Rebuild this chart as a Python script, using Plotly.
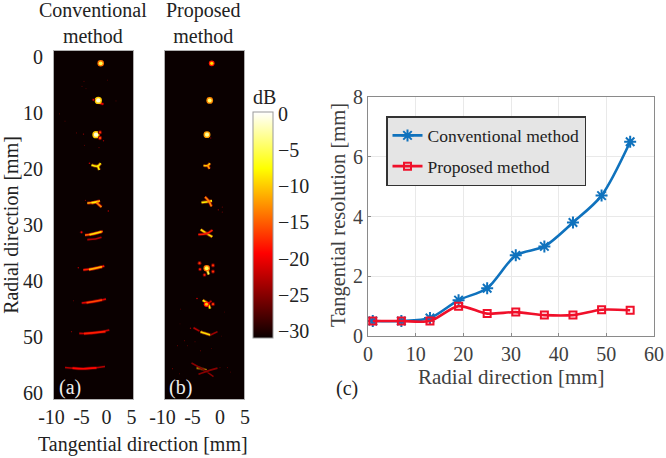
import plotly.graph_objects as go
from plotly.colors import sample_colorscale

# ---------- data ----------
radial_mm = [1, 7, 13, 19, 25, 31, 37, 43, 49, 55]
conventional_res = [0.5, 0.5, 0.6, 1.2, 1.6, 2.7, 3.0, 3.8, 4.7, 6.5]
proposed_res = [0.5, 0.5, 0.5, 1.0, 0.75, 0.8, 0.7, 0.7, 0.88, 0.86]

# (tangential mm, radial mm, dB)
a_spots = [(-1.16, 1.2, -5), (-1.64, 7.8, -1), (-2.1, 13.9, -1), (-1.3, 13.5, -17), (-1.3, 14.5, -16),
           (-4.6, 13.8, -24), (-5.0, 31.3, -20), (-5.64, 37.6, -23), (-6.6, 43.5, -26), (-7.0, 49.0, -25),
           (0.36, 27.5, -23), (-3.4, 19.0, -22), (-4.2, 25.6, -25), (-4.5, 4.4, -27), (-4.9, 5.3, -27),
           (-4.1, 5.7, -28), (-2.6, 7.7, -20), (-9.4, 10.2, -27), (-8.3, 11.5, -28), (-6.0, 13.6, -27),
           (-4.4, 15.8, -27), (-1.5, 16.2, -26), (0.2, 4.2, -28), (1.9, 7.9, -28), (-0.6, 15.0, -24)]
a_streaks = [([-1.7, -0.6], [8.2, 8.5], -20),
             ([-3.0, -1.76, -1.16], [19.3, 19.5, 19.0], -8),
             ([-1.76, -1.44], [19.5, 20.2], -8),
             ([-3.84, -2.6, -1.3], [26.1, 26.0, 25.7], -12),
             ([-3.0, -1.6], [26.05, 25.85], -8),
             ([-2.0, -1.0], [26.0, 26.8], -13),
             ([-4.3, -2.64, -0.76], [31.8, 31.6, 31.1], -15),
             ([-3.4, -1.0], [31.75, 31.2], -9),
             ([-3.84, -2.2, -1.0], [32.6, 32.5, 32.2], -23),
             ([-4.64, -2.64, -0.44], [38.0, 37.8, 37.3], -18),
             ([-3.5, -0.9], [37.95, 37.45], -11),
             ([-4.96, -2.64, -0.1], [43.9, 43.7, 43.2], -21),
             ([-4.0, -0.9], [43.85, 43.35], -16),
             ([-5.44, -3.0, 0.56], [49.3, 49.3, 48.7], -22),
             ([-4.5, -0.2], [49.35, 49.0], -18),
             ([-8.3, -4.64, -0.3], [55.4, 55.6, 55.2], -23),
             ([-6.8, -4.64, -2.0], [55.5, 55.6, 55.45], -19)]

b_spots = [(-1.16, 1.2, -9), (-1.56, 7.8, -4), (-2.1, 13.9, -3), (-1.36, 14.5, -25),
           (0.16, 27.3, -24), (0.96, 26.8, -26), (0.96, 27.7, -26),
           (-2.16, 37.7, -5), (-3.6, 36.8, -17), (-3.5, 37.9, -18), (-2.6, 38.9, -18),
           (-0.9, 37.2, -17), (-0.9, 38.3, -17), (-2.2, 44.1, -10), (-0.9, 44.1, -17),
           (-4.1, 43.1, -22), (-5.4, 48.4, -24), (-6.6, 50.6, -27), (-8.0, 51.5, -27),
           (-9.0, 55.6, -26), (0.5, 55.4, -27), (2.0, 55.4, -27), (1.4, 45.5, -28),
           (-7.4, 45.0, -28), (-3.4, 52.4, -26), (-6.0, 51.5, -28), (-4.5, 50.8, -27),
           (-7.5, 47.6, -29), (-1.2, 52.0, -28), (0.8, 49.8, -29), (2.6, 56.2, -28), (-7.6, 56.5, -27)]
b_streaks = [([-2.8, -1.96, -1.5], [19.4, 19.4, 19.0], -10),
             ([-1.96, -1.6], [19.4, 20.0], -12),
             ([-3.2, -1.7, -1.1], [26.0, 25.8, 25.7], -8),
             ([-2.5, -1.7, -1.2], [25.0, 25.8, 26.7], -13),
             ([-3.36, -2.2, -1.04], [30.8, 31.5, 32.1], -9),
             ([-3.84, -2.16, -1.0], [31.7, 31.5, 30.9], -18),
             ([-2.16, -1.76], [37.7, 38.8], -5),
             ([-2.96, -1.84, -1.5], [43.4, 44.1, 44.9], -8),
             ([-2.2, -1.2], [44.3, 43.5], -22),
             ([-3.4, -2.5, -1.4], [49.0, 49.3, 49.6], -9),
             ([-4.8, -3.6], [48.3, 48.9], -23),
             ([-1.4, 0.0], [49.6, 49.0], -24),
             ([-4.16, -3.16, -2.2], [55.4, 55.6, 55.9], -8),
             ([-5.2, -3.16, -0.8], [54.6, 55.6, 57.0], -25),
             ([-3.8, -1.6, 0.0], [56.6, 55.9, 55.5], -25)]

db_ticks = [0, -5, -10, -15, -20, -25, -30]
x_tick_vals = [-10, -5, 0, 5]
a_x_text = ["-10\u00a0\u00a0", "-5", "0", "5"]
b_x_text = ["-10\u00a0\u00a0", "-5", "\u00a00", "\u00a05"]
r_ticks = [0, 10, 20, 30, 40, 50, 60]

# ---------- style ----------
W, H = 666, 458
SERIF = "Liberation Serif"
HOT = [[0, "#0a0000"], [0.375, "#ff0000"], [0.75, "#ffff00"], [1, "#ffffff"]]
DB_MIN, DB_MAX = -31, 0.3


def hot(db):
    t = max(0, min(1, (db - DB_MIN) / (DB_MAX - DB_MIN)))
    return sample_colorscale(HOT, [t])[0]


def dom_x(a, b):
    return [a / W, b / W]


def dom_y(top, bottom):
    return [1 - bottom / H, 1 - top / H]


fig = go.Figure()


def add_panel(spots, streaks, xa, ya):
    for ts, rs, db in streaks:
        fig.add_trace(go.Scatter(x=ts, y=rs, mode="lines", xaxis=xa, yaxis=ya, showlegend=False,
                                 line=dict(color=hot(db - 6), width=3.2, shape="spline"), opacity=0.5,
                                 hoverinfo="skip"))
        fig.add_trace(go.Scatter(x=ts, y=rs, mode="lines", xaxis=xa, yaxis=ya, showlegend=False,
                                 line=dict(color=hot(db), width=1.6, shape="spline")))
    fig.add_trace(go.Scatter(
        x=[s[0] for s in spots], y=[s[1] for s in spots], mode="markers", xaxis=xa, yaxis=ya,
        showlegend=False, hoverinfo="skip",
        marker=dict(color=[s[2] - 9 for s in spots], coloraxis="coloraxis", symbol="circle", opacity=1,
                    size=[max(2, 7.5 + s[2] * 0.2) for s in spots], line=dict(width=0))))
    fig.add_trace(go.Scatter(
        x=[s[0] for s in spots], y=[s[1] for s in spots], mode="markers", xaxis=xa, yaxis=ya,
        showlegend=False,
        marker=dict(color=[s[2] for s in spots], coloraxis="coloraxis", symbol="circle", opacity=1,
                    size=[max(1.2, 4.5 + s[2] * 0.13) for s in spots], line=dict(width=0))))


add_panel(a_spots, a_streaks, "x", "y")
add_panel(b_spots, b_streaks, "x2", "y2")

BLUE, RED = "#0f72bd", "#f0102a"
fig.add_trace(go.Scatter(x=radial_mm, y=conventional_res, name="Conventional method", mode="lines+markers",
                         xaxis="x3", yaxis="y3", legendgroup="a",
                         line=dict(color=BLUE, width=2.6, shape="spline", smoothing=0.8),
                         marker=dict(symbol="asterisk-open", size=10, color=BLUE, line=dict(color=BLUE, width=2))))
fig.add_trace(go.Scatter(x=radial_mm, y=proposed_res, name="Proposed method", mode="lines+markers",
                         xaxis="x3", yaxis="y3", legendgroup="b",
                         line=dict(color=RED, width=2.6, shape="spline", smoothing=0.8),
                         marker=dict(symbol="square-open", size=7, color=RED, line=dict(color=RED, width=2))))

img_x = dict(range=[-10.5, 5.3], tickvals=x_tick_vals, showgrid=False, zeroline=False, ticks="", tickangle=0,
             automargin=False,
             showline=True, linecolor="#b0b0b0", linewidth=1, mirror=True,
             tickfont=dict(family=SERIF, size=20, color="#222"))
img_y = dict(range=[61, -1], tickvals=r_ticks, showgrid=False, zeroline=False, ticks="", automargin=False,
             showline=True, linecolor="#b0b0b0", linewidth=1, mirror=True,
             tickfont=dict(family=SERIF, size=20, color="#222"), ticklabelstandoff=6)
c_common = dict(showgrid=True, gridcolor="#e9e9e9", gridwidth=1, zeroline=False, showline=True, automargin=False,
                linecolor="#8a8a8a", linewidth=1, mirror=True, ticks="inside", ticklen=3, tickcolor="#8a8a8a",
                tickangle=0, tickfont=dict(family=SERIF, size=20, color="#404040"))

dark_bg = [dict(type="rect", xref=f"{a} domain", yref=f"{b} domain", x0=0, x1=1, y0=0, y1=1,
                fillcolor="#0a0000", line=dict(width=0), layer="below")
           for a, b in (("x", "y"), ("x2", "y2"))]

fig.update_layout(
    width=W, height=H, margin=dict(l=0, r=0, t=0, b=0), autosize=False,
    paper_bgcolor="white", plot_bgcolor="white", shapes=dark_bg,
    xaxis=dict(img_x, domain=dom_x(54, 133), ticktext=a_x_text, anchor="y"),
    yaxis=dict(img_y, domain=dom_y(51, 399), anchor="x",
               title=dict(text="Radial direction [mm]", font=dict(family=SERIF, size=20, color="#222"))),
    xaxis2=dict(img_x, domain=dom_x(165, 244), ticktext=b_x_text, anchor="y2"),
    yaxis2=dict(img_y, domain=dom_y(51, 399), anchor="x2", showticklabels=False),
    xaxis3=dict(c_common, domain=dom_x(368, 654), range=[0, 60], tickvals=[0, 10, 20, 30, 40, 50, 60], anchor="y3"),
    yaxis3=dict(c_common, domain=dom_y(97, 336), range=[0, 8], tickvals=[0, 2, 4, 6, 8], anchor="x3"),
    coloraxis=dict(cmin=DB_MIN, cmax=DB_MAX, colorscale=HOT,
                   colorbar=dict(x=253 / W, xanchor="left", y=1 - 112 / H, yanchor="top",
                                 lenmode="pixels", len=226, thicknessmode="pixels", thickness=20,
                                 outlinecolor="#999", outlinewidth=1, ticks="", tickvals=db_ticks,
                                 tickfont=dict(family=SERIF, size=20, color="#222"), xpad=0, ypad=0)),
    legend=dict(x=386 / W, xanchor="left", y=1 - 116 / H, yanchor="top", bgcolor="#e5e5e5",
                bordercolor="#333", borderwidth=1.5, tracegroupgap=5, itemwidth=30,
                font=dict(family=SERIF, size=17.5, color="#222")),
    showlegend=True,
)


def note(text, x, y, size=20, color="#222", angle=0):
    fig.add_annotation(text=text, x=x / W, y=1 - y / H, xref="paper", yref="paper", showarrow=False,
                       xanchor="center", yanchor="middle", align="center", textangle=angle,
                       font=dict(family=SERIF, size=size, color=color))


note("Conventional<br>method", 93, 23, 20)
note("Proposed<br>method", 203, 23, 20)
note("dB", 264, 97, 20)
note("(a)", 70, 387, 20, "#eeeeee")
note("(b)", 180, 387, 20, "#eeeeee")
note("(c)", 347, 388, 20)
note("Tangential direction [mm]", 143, 444, 20)
note("Radial direction [mm]", 511, 377, 21, "#404040")
note("Tangential resolution [mm]", 338, 215, 20.5, "#404040", angle=-90)

fig.write_html("out.html", post_script="document.body.style.margin='0';", config=dict(displayModeBar=False))
